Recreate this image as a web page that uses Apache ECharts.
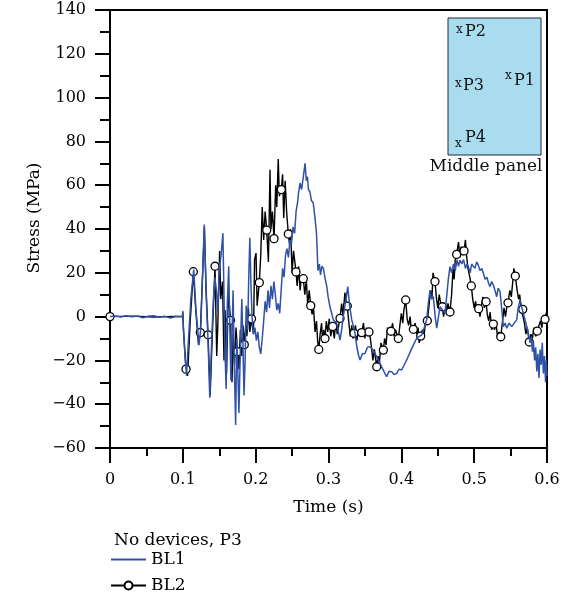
<!DOCTYPE html>
<html>
<head>
<meta charset="utf-8">
<script src="https://cdn.jsdelivr.net/npm/echarts@6/dist/echarts.min.js"></script>
<style>
  html, body { margin: 0; padding: 0; background: #fff; }
  #chart { width: 568px; height: 598px; }
</style>
</head>
<body>
<div id="chart"></div>
<script>
// Stress history at gauge P3 (no devices), two blast loads BL1 and BL2.
// Each entry: [time (s), stress (MPa)]

const bl1Points = [
  [0,0],[0.008,0.3],[0.015,-0.2],[0.022,0.4],[0.03,-0.1],[0.038,0.3],[0.045,-0.5],[0.052,0.2],
  [0.06,0.4],[0.068,-0.3],[0.075,0.2],[0.083,-0.6],[0.09,0],[0.0995,0.2],[0.1,2.5],[0.1005,-3],
  [0.103,-18],[0.105,-27],[0.1075,-12],[0.111,8],[0.115,21.5],[0.118,3],[0.1205,-6],[0.122,-13],
  [0.1245,-6],[0.127,18],[0.1295,42],[0.132,10],[0.1345,-10],[0.137,-37],[0.1395,-12],[0.142,8],
  [0.144,18],[0.146,12],[0.148,2],[0.15,22],[0.1525,28],[0.155,38],[0.1565,10],[0.158,-18],
  [0.1595,-33],[0.161,5],[0.163,23],[0.1645,-5],[0.166,-29],[0.1675,-10],[0.169,12],[0.1705,-20],
  [0.1725,-49.5],[0.174,-10],[0.1755,-25],[0.177,-44],[0.179,-15],[0.181,8],[0.1825,-12],[0.184,-36],
  [0.1855,-20],[0.187,5],[0.189,-6],[0.1905,18],[0.192,36],[0.1935,15],[0.195,0],[0.197,-8],
  [0.199,-5],[0.201,-11],[0.203,-7],[0.205,-14],[0.207,-17],[0.209,-10],[0.211,-2],[0.213,7],
  [0.215,2],[0.217,12],[0.219,4],[0.221,14],[0.223,8],[0.225,16],[0.227,10],[0.229,3],
  [0.231,6],[0.233,1.5],[0.235,12],[0.237,22],[0.239,18],[0.241,28],[0.243,31],[0.245,27],
  [0.247,35],[0.249,33],[0.2515,41],[0.2535,38],[0.2555,48],[0.2575,52],[0.259,57],[0.261,61],
  [0.263,58],[0.2655,64],[0.2678,70],[0.2695,62],[0.271,64],[0.2725,58],[0.2745,57],[0.2765,53],
  [0.279,52],[0.2815,45],[0.2835,38],[0.2855,21],[0.2875,24],[0.289,19],[0.291,23],[0.293,22],
  [0.2955,17],[0.2975,14],[0.2995,9],[0.302,4.5],[0.304,2],[0.3066,-1.5],[0.309,-2],[0.3113,-3],
  [0.3135,-7],[0.3158,-10.7],[0.318,-6],[0.3203,0],[0.3225,5],[0.3245,9],[0.3264,13.7],[0.329,5],
  [0.3319,-1.5],[0.334,-4],[0.3364,-7.6],[0.339,-14],[0.3415,-18],[0.3433,-19.8],[0.3465,-17],[0.3501,-16.8],
  [0.3535,-14],[0.357,-13.7],[0.3605,-15],[0.3639,-16.8],[0.367,-19],[0.3707,-21.3],[0.3745,-24],[0.3775,-26],
  [0.3799,-27.4],[0.383,-25],[0.3868,-25.2],[0.39,-26.5],[0.3937,-25.9],[0.397,-24],[0.4005,-24.4],[0.404,-22],
  [0.4074,-19.8],[0.411,-17],[0.4143,-14.5],[0.418,-12],[0.4211,-9.9],[0.4245,-9],[0.428,-8.4],[0.4315,-5],
  [0.4348,-1.5],[0.437,6],[0.4394,12.1],[0.4415,8],[0.4439,9.1],[0.4465,0],[0.4486,-5.3],[0.451,0],
  [0.4531,4.5],[0.4565,3],[0.46,1.5],[0.4625,10],[0.4645,17],[0.4668,22.8],[0.469,20],[0.4715,24],
  [0.474,21],[0.4765,26],[0.4785,23],[0.4806,25.8],[0.483,24],[0.4855,26],[0.488,22],[0.49,24],
  [0.492,22.8],[0.4945,20],[0.4965,24],[0.4988,24.3],[0.501,22],[0.5035,25],[0.5057,23.5],[0.508,21],
  [0.5105,22],[0.5126,19.8],[0.515,17],[0.5175,18],[0.52,15],[0.5218,13.7],[0.524,16],[0.5263,14.4],
  [0.5285,12],[0.531,9.1],[0.533,13],[0.5355,11.4],[0.538,3],[0.54,-4.6],[0.5425,-3],[0.5447,-5.3],
  [0.548,-3],[0.5516,-4.6],[0.555,-3],[0.5584,-1.5],[0.5605,4],[0.563,7.6],[0.5655,4],[0.5675,1.5],
  [0.571,-3],[0.5743,-7.6],[0.577,-12],[0.5785,-9],[0.58,-16],[0.5815,-12],[0.583,-20],[0.5845,-14],
  [0.586,-25],[0.5875,-17],[0.589,-28],[0.5905,-15],[0.592,-22],[0.5935,-12],[0.595,-26],[0.5965,-18],
  [0.598,-30],[0.599,-20],[0.6,-27]
];

// BL2 samples that carry a circle marker
const bl2Marked = [
  [0,0],[0.1044,-24],[0.1144,20.5],[0.124,-7.3],[0.1346,-8.3],[0.1442,23],[0.1655,-1.7],[0.175,-16],
  [0.1844,-12.8],[0.1943,-1],[0.205,15.5],[0.2152,39.5],[0.2252,35.6],[0.2352,58],[0.2448,37.7],[0.2554,20.4],
  [0.2654,17.3],[0.2756,5],[0.2866,-15],[0.2952,-10],[0.3058,-4.5],[0.3158,-0.8],[0.3258,4.8],[0.335,-7.6],
  [0.3456,-7.3],[0.3556,-7],[0.3662,-22.9],[0.3753,-15.3],[0.3858,-6.7],[0.3959,-10],[0.406,7.6],[0.4165,-5.8],
  [0.4266,-8.9],[0.4357,-1.9],[0.4462,16],[0.4563,4.5],[0.4668,2.1],[0.476,28.4],[0.4861,30],[0.4961,14],
  [0.5062,3.6],[0.5163,6.8],[0.5263,-3.4],[0.5365,-9.2],[0.5465,6.3],[0.5565,18.5],[0.5667,3.3],[0.5757,-11.6],
  [0.5867,-6.6],[0.5973,-1.2]
];

// BL2 samples between the marked ones
const bl2Trace = [
  [0.03,0.2],[0.06,-0.2],[0.09,0.1],[0.0995,0],[0.1,2],[0.1008,-6],[0.1065,-27],[0.11,-3],
  [0.118,2],[0.1215,-13],[0.127,18],[0.1295,41],[0.132,12],[0.1375,-36],[0.1405,-8],
  [0.1465,-18],[0.148,-4],[0.1505,30],[0.152,8],[0.1545,16],[0.1565,-20],[0.158,3],[0.16,-26],[0.1625,11],
  [0.1675,-30],[0.169,-8],[0.171,-22],[0.173,-5],[0.177,-24],[0.179,-6],[0.181,-18],[0.1825,-4],
  [0.1865,-3],[0.188,-9],[0.19,4],[0.192,-7],[0.197,-8],[0.1985,26],[0.2005,29],[0.202,5],
  [0.207,28],[0.209,50],[0.211,35],[0.213,48],[0.2175,25],[0.2197,67],[0.221,40],[0.223,48],
  [0.2275,60],[0.229,50],[0.231,72],[0.2325,55],[0.237,65],[0.2385,45],[0.2405,62],[0.2425,48],
  [0.2465,33],[0.248,40],[0.25,20],[0.252,30],[0.257,14],[0.259,23],[0.261,12],[0.263,19],
  [0.2675,10],[0.2695,17],[0.2715,5],[0.2735,12],[0.2775,1],[0.2795,4],[0.2815,-7],[0.2835,-2],[0.285,-11],
  [0.2885,-8],[0.2905,-3],[0.292,-12],[0.2935,-6],[0.297,-2],[0.299,-7],[0.301,-1],[0.303,-9],
  [0.308,-10],[0.31,-2],[0.312,-8],[0.314,-4],[0.318,6],[0.32,0],[0.3225,11],[0.3245,6],
  [0.328,-3],[0.33,-9],[0.332,-4],[0.3335,-10],[0.337,-4],[0.339,-11],[0.341,-6],[0.343,-9],
  [0.348,-3],[0.35,-10],[0.352,-5],[0.354,-9],[0.3575,-10],[0.359,-14],[0.361,-20],[0.363,-15],
  [0.368,-18],[0.37,-21],[0.372,-12],[0.377,-10],[0.379,-13],[0.381,-5],[0.383,-8],
  [0.388,-3],[0.39,-9],[0.392,-6],[0.398,-4],[0.4,1.5],[0.402,-3],[0.4035,3],
  [0.408,-1],[0.41,-4],[0.412,0],[0.414,-7],[0.419,-3],[0.421,-8],[0.423,-5],[0.4245,-12],
  [0.429,-6],[0.431,-9],[0.433,-3],[0.438,5],[0.44,12],[0.442,8],[0.4435,20],
  [0.448,9],[0.45,4],[0.452,10],[0.454,6],[0.458,0],[0.46,5],[0.462,1],[0.464,6],
  [0.469,10],[0.471,22],[0.4725,17],[0.474,26],[0.4785,34],[0.4805,27],[0.482,32],[0.484,28],
  [0.488,35],[0.4895,28],[0.4915,22],[0.494,18],[0.498,8],[0.5,4],[0.502,7],[0.504,2],
  [0.508,0],[0.51,5],[0.512,9],[0.514,4],[0.518,1],[0.52,-2],[0.522,2],[0.524,-6],
  [0.528,-6],[0.53,-3],[0.532,-9],[0.534,-7],[0.539,-2],[0.541,4],[0.543,0],[0.545,5],
  [0.549,12],[0.551,9],[0.553,16],[0.5545,22],[0.559,12],[0.561,8],[0.5625,10],[0.5645,4],
  [0.569,-3],[0.571,-8],[0.573,-5],[0.578,-8],[0.58,-10],[0.582,-5],[0.5845,-9],
  [0.589,-4],[0.591,-2],[0.593,-5],[0.595,0],[0.6,3]
];

const seriesNames = ['BL1', 'BL2'];
const legendTitle = 'No devices, P3';
const xAxisTitle = 'Time (s)';
const yAxisTitle = 'Stress (MPa)';
const gaugeLabels = ['P2', 'P3', 'P1', 'P4'];
const gaugeMark = 'x';
const insetCaption = 'Middle panel';

const FONT = 'DejaVu Serif';
const BLUE = '#2f52a8';

const bl2Data = bl2Marked.map(p => ({ value: p }))
  .concat(bl2Trace.map(p => ({ value: p, symbol: 'none' })))
  .sort((a, b) => a.value[0] - b.value[0]);

const fmtMinus = v => (v < 0 ? '\u2212' + Math.abs(v) : String(v));

const chart = echarts.init(document.getElementById('chart'), null, { renderer: 'canvas' });

// inset sketch of the panel with gauge positions
const inset = { x: 448, y: 18, w: 93, h: 137 };
const gaugePos = [
  { sx: 456, sy: 24, px: 465, py: 24 },
  { sx: 455, sy: 78, px: 463, py: 78 },
  { sx: 505, sy: 70, px: 514, py: 73 },
  { sx: 455, sy: 138, px: 465, py: 130 }
];
const overlay = [{
  type: 'rect',
  shape: { x: inset.x, y: inset.y, width: inset.w, height: inset.h },
  style: { fill: '#aadcf0', stroke: '#1c2b44', lineWidth: 1 },
  z: 10
}];
gaugeLabels.forEach((g, i) => {
  const p = gaugePos[i];
  overlay.push({
    type: 'text', x: p.sx, y: p.sy, z: 11,
    style: { text: gaugeMark, font: '12px "' + FONT + '"', fill: '#111', textVerticalAlign: 'top' }
  });
  overlay.push({
    type: 'text', x: p.px, y: p.py, z: 11,
    style: { text: g, font: '16px "' + FONT + '"', fill: '#111', textVerticalAlign: 'top' }
  });
});
overlay.push({
  type: 'text', x: 486, y: 167, z: 11,
  style: { text: insetCaption, font: '17px "' + FONT + '"', fill: '#111', textAlign: 'center', textVerticalAlign: 'middle' }
});
// vertical axis title
overlay.push({
  type: 'text', x: 35, y: 218, rotation: Math.PI / 2, z: 11,
  style: { text: yAxisTitle, font: '17px "' + FONT + '"', fill: '#000', textAlign: 'center', textVerticalAlign: 'middle' }
});

chart.setOption({
  animation: false,
  backgroundColor: '#fff',
  textStyle: { fontFamily: FONT, color: '#000' },
  title: {
    text: legendTitle,
    left: 109, top: 527,
    textStyle: { fontFamily: FONT, fontSize: 17, fontWeight: 'normal', color: '#000' }
  },
  legend: {
    data: [
      { name: seriesNames[0], itemStyle: { opacity: 0 } },
      { name: seriesNames[1] }
    ],
    orient: 'vertical',
    left: 110, top: 551,
    padding: 0,
    itemWidth: 35, itemHeight: 10, itemGap: 9,
    textStyle: { fontFamily: FONT, fontSize: 17, color: '#000' }
  },
  grid: {
    left: 110, right: 21, top: 10, bottom: 150,
    show: true, borderColor: '#000', borderWidth: 2, backgroundColor: 'transparent'
  },
  xAxis: {
    type: 'value', min: 0, max: 0.6, interval: 0.1,
    name: xAxisTitle, nameLocation: 'middle', nameGap: 51,
    nameTextStyle: { fontFamily: FONT, fontSize: 17, color: '#000' },
    axisLine: { onZero: false, lineStyle: { color: '#000', width: 2 } },
    axisTick: { length: 15, lineStyle: { color: '#000', width: 2 } },
    minorTick: { show: true, splitNumber: 2, length: 8, lineStyle: { color: '#000', width: 2 } },
    axisLabel: { margin: 24, fontFamily: FONT, fontSize: 16, color: '#000',
      formatter: v => (v === 0 ? '0' : String(+v.toFixed(1))) },
    splitLine: { show: false }
  },
  yAxis: {
    type: 'value', min: -60, max: 140, interval: 20,
    axisLine: { onZero: false, lineStyle: { color: '#000', width: 2 } },
    axisTick: { length: 15, lineStyle: { color: '#000', width: 2 } },
    minorTick: { show: true, splitNumber: 2, length: 10, lineStyle: { color: '#000', width: 2 } },
    axisLabel: { margin: 24, fontFamily: FONT, fontSize: 16, color: '#000', formatter: fmtMinus },
    splitLine: { show: false }
  },
  series: [
    {
      name: 'BL2', type: 'line', data: bl2Data, z: 2,
      symbol: 'circle', symbolSize: 8, showSymbol: true, showAllSymbol: true,
      itemStyle: { color: '#fff', borderColor: '#000', borderWidth: 1.3 },
      lineStyle: { color: '#000', width: 1.4 },
      emphasis: { disabled: true }
    },
    {
      name: 'BL1', type: 'line', data: bl1Points, z: 3,
      symbol: 'none',
      itemStyle: { color: BLUE },
      lineStyle: { color: BLUE, width: 1.5 },
      emphasis: { disabled: true }
    }
  ],
  graphic: overlay
});
</script>
</body>
</html>
